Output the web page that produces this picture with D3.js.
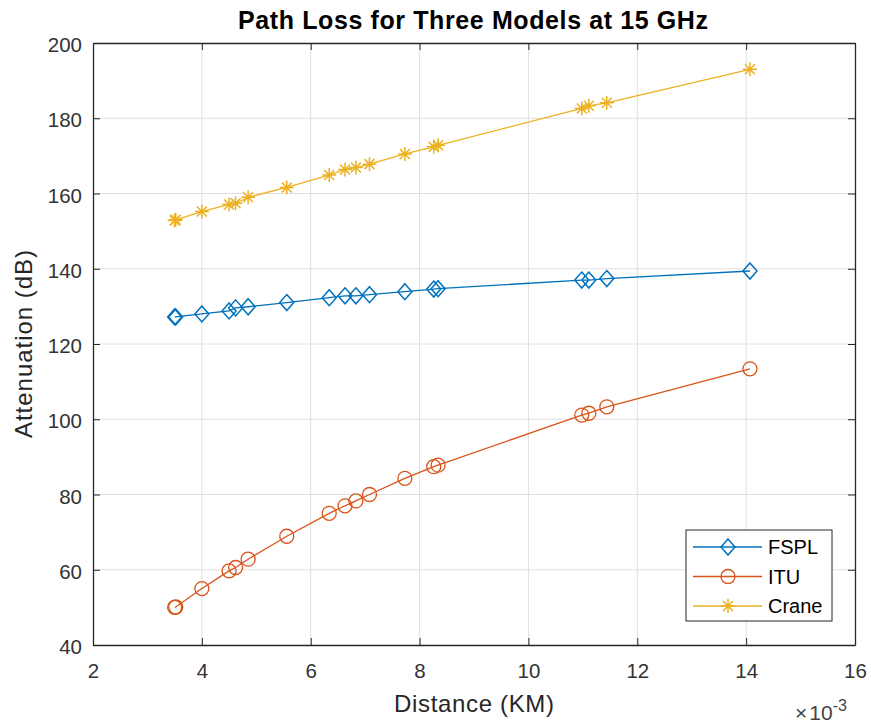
<!DOCTYPE html>
<html>
<head>
<meta charset="utf-8">
<script src="https://cdn.jsdelivr.net/npm/d3@7"></script>
<style>
  html, body { margin: 0; padding: 0; background: #fff; }
  svg { display: block; font-family: 'Liberation Sans', Arial, sans-serif; }
</style>
</head>
<body>
<div id="chart"></div>
<script>
  // Data (distance in units of 1e-3 km)
  const distance = [3.5, 3.52, 4.0, 4.5, 4.62, 4.85, 5.56, 6.34, 6.63, 6.83, 7.08, 7.73, 8.26, 8.34, 10.98, 11.11, 11.44, 14.07];
  const fspl = [127.2, 127.2, 128.0, 128.8, 129.6, 129.9, 131.0, 132.3, 132.8, 132.8, 133.1, 133.9, 134.6, 134.7, 137.0, 137.0, 137.4, 139.4];
  const itu = [50.0, 50.1, 55.0, 59.7, 60.6, 62.8, 68.9, 75.0, 77.0, 78.3, 80.0, 84.3, 87.4, 87.8, 101.1, 101.6, 103.3, 113.4];
  const crane = [152.8, 153.0, 155.2, 157.1, 157.4, 159.0, 161.6, 164.9, 166.4, 166.9, 167.8, 170.5, 172.4, 172.8, 182.6, 183.3, 184.1, 193.0];
  const seriesNames = ['FSPL', 'ITU', 'Crane'];
  const seriesColors = ['#0072BD', '#D95319', '#EDB120'];
  const xTicks = [2, 4, 6, 8, 10, 12, 14, 16];
  const yTicks = [40, 60, 80, 100, 120, 140, 160, 180, 200];

  const WIDTH = 871;
  const HEIGHT = 727;
  const margin = { top: 43, right: 16, bottom: 82, left: 93 };
  const innerW = WIDTH - margin.left - margin.right;
  const innerH = HEIGHT - margin.top - margin.bottom;

  const x = d3.scaleLinear().domain([2, 16]).range([0, innerW]);
  const y = d3.scaleLinear().domain([40, 200]).range([innerH, 0]);

  const svg = d3.select('#chart').append('svg')
    .attr('width', WIDTH)
    .attr('height', HEIGHT);

  const g = svg.append('g').attr('transform', `translate(${margin.left},${margin.top})`);

  // grid
  g.append('g').selectAll('line').data(xTicks.slice(1, -1)).join('line')
    .attr('x1', d => x(d)).attr('x2', d => x(d))
    .attr('y1', 0).attr('y2', innerH)
    .attr('stroke', '#e0e0e0').attr('stroke-width', 1);
  g.append('g').selectAll('line').data(yTicks.slice(1, -1)).join('line')
    .attr('y1', d => y(d)).attr('y2', d => y(d))
    .attr('x1', 0).attr('x2', innerW)
    .attr('stroke', '#e0e0e0').attr('stroke-width', 1);

  // series
  const series = [fspl, itu, crane].map((vals, i) => ({
    name: seriesNames[i],
    color: seriesColors[i],
    points: distance.map((d, j) => [d, vals[j]])
  }));

  const line = d3.line().x(d => x(d[0])).y(d => y(d[1]));

  function drawMarker(sel, name, color) {
    if (name === 'FSPL') {
      sel.append('path').attr('d', 'M0,-8L7,0L0,8L-7,0Z')
        .attr('fill', 'none').attr('stroke', color).attr('stroke-width', 1.5);
    } else if (name === 'ITU') {
      sel.append('circle').attr('r', 7)
        .attr('fill', 'none').attr('stroke', color).attr('stroke-width', 1.3);
    } else {
      sel.append('path').attr('d', 'M-7,0H7M0,-7V7M-5,-5L5,5M-5,5L5,-5')
        .attr('fill', 'none').attr('stroke', color).attr('stroke-width', 1.5);
    }
  }

  series.forEach(s => {
    g.append('path').datum(s.points)
      .attr('fill', 'none')
      .attr('stroke', s.color)
      .attr('stroke-width', 1.3)
      .attr('d', line);
    g.append('g').selectAll('g').data(s.points).join('g')
      .attr('transform', d => `translate(${x(d[0])},${y(d[1])})`)
      .each(function () { drawMarker(d3.select(this), s.name, s.color); });
  });

  // axes (box, inward ticks)
  const axisColor = '#262626';
  const tickLen = 7;
  const xAxis = g.append('g').attr('transform', `translate(0,${innerH})`)
    .call(d3.axisBottom(x).tickValues(xTicks).tickSizeInner(-tickLen).tickSizeOuter(0).tickPadding(18));
  const xAxisTop = g.append('g')
    .call(d3.axisTop(x).tickValues(xTicks).tickSizeInner(-tickLen).tickSizeOuter(0).tickFormat(''));
  const yAxis = g.append('g')
    .call(d3.axisLeft(y).tickValues(yTicks).tickSizeInner(-tickLen).tickSizeOuter(0).tickPadding(11));
  const yAxisRight = g.append('g').attr('transform', `translate(${innerW},0)`)
    .call(d3.axisRight(y).tickValues(yTicks).tickSizeInner(-tickLen).tickSizeOuter(0).tickFormat(''));

  [xAxis, xAxisTop, yAxis, yAxisRight].forEach(a => {
    a.select('.domain').attr('stroke', axisColor).attr('stroke-width', 1.3);
    a.selectAll('.tick line').attr('stroke', axisColor).attr('stroke-width', 1);
    a.selectAll('.tick text')
      .attr('fill', '#333')
      .style('font-size', '20.5px')
      .style('font-family', "'Liberation Sans', Arial, sans-serif");
  });
  yAxis.selectAll('.tick text').attr('dy', '0.42em');

  // exponent label
  const expText = svg.append('text')
    .attr('x', 795)
    .attr('y', 720)
    .attr('fill', '#444')
    .style('font-size', '21px');
  expText.append('tspan').text('×');
  expText.append('tspan').attr('dx', 2).text('10');
  expText.append('tspan').attr('dy', -9).style('font-size', '16px').text('-3');

  // labels
  svg.append('text')
    .attr('x', margin.left + innerW / 2)
    .attr('y', 712)
    .attr('text-anchor', 'middle')
    .attr('fill', axisColor)
    .attr('textLength', 160)
    .style('font-size', '24px')
    .text('Distance (KM)');

  svg.append('text')
    .attr('transform', `translate(32,${margin.top + innerH / 2}) rotate(-90)`)
    .attr('text-anchor', 'middle')
    .attr('fill', axisColor)
    .attr('textLength', 188)
    .style('font-size', '24px')
    .text('Attenuation (dB)');

  svg.append('text')
    .attr('x', 473)
    .attr('y', 29)
    .attr('text-anchor', 'middle')
    .attr('fill', '#000')
    .attr('textLength', 470)
    .style('font-size', '25px')
    .style('font-weight', 'bold')
    .text('Path Loss for Three Models at 15 GHz');

  // legend
  const legend = svg.append('g').attr('transform', 'translate(686,530)');
  legend.append('rect')
    .attr('width', 146).attr('height', 91)
    .attr('fill', '#fff').attr('stroke', axisColor).attr('stroke-width', 1);
  series.forEach((s, i) => {
    const row = legend.append('g').attr('transform', `translate(0,${17 + i * 29.5})`);
    row.append('line').attr('x1', 7).attr('x2', 76)
      .attr('stroke', s.color).attr('stroke-width', 1.3);
    const m = row.append('g').attr('transform', 'translate(42,0)');
    drawMarker(m, s.name, s.color);
    row.append('text').attr('x', 82).attr('y', 7)
      .attr('fill', '#000')
      .style('font-size', '20px')
      .text(s.name);
  });
</script>
</body>
</html>
